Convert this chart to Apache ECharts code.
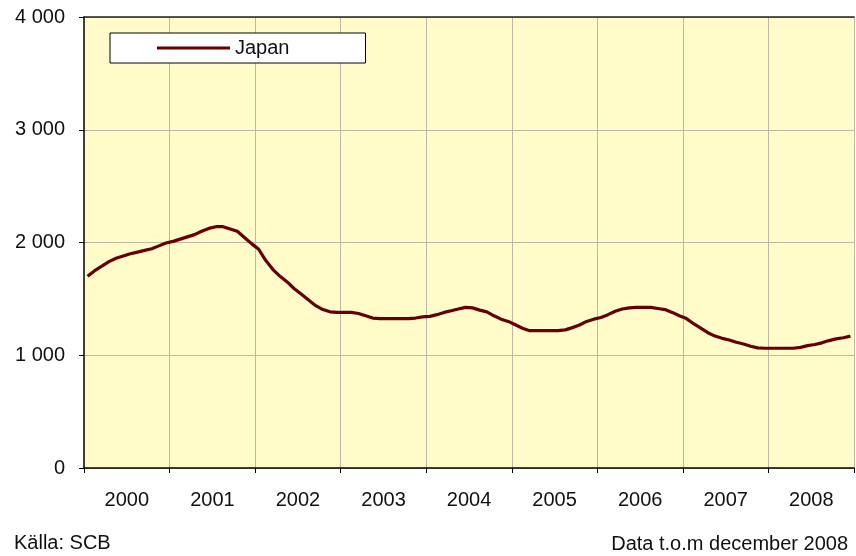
<!DOCTYPE html>
<html>
<head>
<meta charset="utf-8">
<script src="https://cdn.jsdelivr.net/npm/echarts@6/dist/echarts.min.js"></script>
<style>
  html, body { margin: 0; padding: 0; background: #fff; }
  #chart { width: 856px; height: 556px; }
</style>
</head>
<body>
<div id="chart"></div>
<script>
// år och månadsvärden (jan 2000 - dec 2008)
const years = ['2000', '2001', '2002', '2003', '2004', '2005', '2006', '2007', '2008'];
const seriesName = 'Japan';
const japan = [
  1700, 1750, 1790, 1830, 1860, 1880, 1900, 1915, 1930, 1945, 1970, 1995,
  2010, 2030, 2050, 2070, 2100, 2125, 2140, 2140, 2120, 2100, 2045, 1990,
  1940, 1840, 1760, 1700, 1650, 1590, 1540, 1490, 1440, 1405, 1385, 1380,
  1380, 1380, 1370, 1350, 1330, 1325, 1325, 1325, 1325, 1325, 1330, 1340,
  1345, 1360, 1380, 1395, 1410, 1425, 1420, 1400, 1385, 1350, 1320, 1300,
  1270, 1240, 1218, 1218, 1218, 1218, 1218, 1225, 1245, 1268, 1300, 1320,
  1335, 1360, 1390, 1410, 1420, 1425, 1425, 1425, 1415, 1405, 1380, 1350,
  1325, 1280, 1240, 1200, 1170, 1150, 1135, 1115, 1100, 1080, 1065, 1062,
  1062, 1062, 1062, 1062, 1070, 1085, 1095, 1110, 1130, 1145, 1155, 1170
];
const yTicks = [0, 1000, 2000, 3000, 4000];
const sourceText = 'Källa: SCB';
const noteText = 'Data t.o.m december 2008';

// en kategori per månad
const months = [];
years.forEach(y => {
  for (let m = 1; m <= 12; m++) months.push(y + '-' + (m < 10 ? '0' + m : m));
});

const font = 'Arial, "Liberation Sans", sans-serif';
const fs = 20;
const chart = echarts.init(document.getElementById('chart'));

chart.setOption({
  animation: false,
  textStyle: { fontFamily: font },
  grid: {
    left: 84, right: 2, top: 17, bottom: 88,
    show: true,
    backgroundColor: '#fffcca',
    borderWidth: 0
  },
  legend: {
    left: 110, top: 33,
    backgroundColor: '#fff',
    borderColor: '#000',
    borderWidth: 1,
    borderRadius: 0,
    padding: [5, 76, 5, 47],
    itemWidth: 73,
    itemHeight: 3,
    textStyle: { fontSize: fs, color: '#111', fontFamily: font },
    data: [{ name: seriesName, icon: 'rect' }]
  },
  xAxis: [{
    type: 'category',
    data: months,
    boundaryGap: true,
    axisLine: { lineStyle: { color: '#000', width: 1.5 } },
    axisTick: {
      show: true, length: 5, inside: false,
      interval: (i) => i % 12 === 0,
      lineStyle: { color: '#000' }
    },
    axisLabel: {
      interval: (i) => i % 12 === 6,
      formatter: (v) => v.slice(0, 4),
      margin: 22,
      padding: [0, 7, 0, 0],
      fontSize: fs,
      color: '#111'
    },
    splitLine: {
      show: true,
      interval: (i) => i % 12 === 0 && i > 0,
      lineStyle: { color: '#bdbaa4', width: 1 }
    }
  }, {
    type: 'category',
    position: 'top',
    data: months,
    axisLine: { lineStyle: { color: '#222', width: 1.5 } },
    axisTick: { show: false },
    axisLabel: { show: false },
    splitLine: { show: false }
  }],
  yAxis: {
    type: 'value',
    min: yTicks[0],
    max: yTicks[yTicks.length - 1],
    interval: 1000,
    axisLine: { show: true, lineStyle: { color: '#000', width: 1.5 } },
    axisTick: { show: true, length: 5, inside: false, lineStyle: { color: '#000' } },
    axisLabel: {
      margin: 19,
      fontSize: fs,
      color: '#111',
      formatter: (v) => v >= 1000 ? Math.floor(v / 1000) + ' 000' : String(v)
    },
    splitLine: { show: true, lineStyle: { color: '#bdbaa4', width: 1 } }
  },
  series: [{
    name: seriesName,
    type: 'line',
    data: japan,
    symbol: 'none',
    smooth: false,
    lineStyle: { color: '#650000', width: 3.2 },
    itemStyle: { color: '#650000' }
  }],
  graphic: [{
    type: 'text',
    left: 14, top: 533,
    style: { text: sourceText, fontSize: fs, fill: '#111', fontFamily: font }
  }, {
    type: 'text',
    right: 8, top: 534,
    style: { text: noteText, fontSize: fs, fill: '#111', fontFamily: font }
  }]
});
</script>
</body>
</html>
